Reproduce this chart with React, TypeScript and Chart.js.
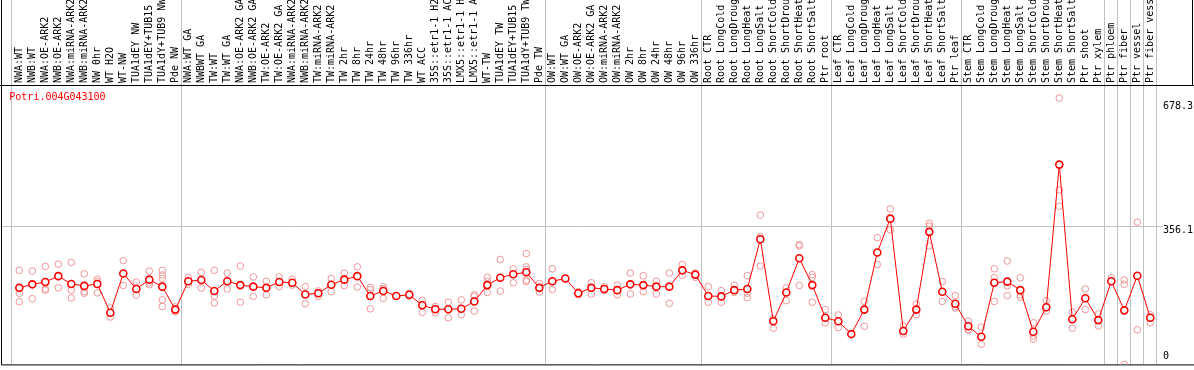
import React, { useEffect, useRef } from 'react';
import { Chart, registerables } from 'chart.js';

Chart.register(...registerables);

const geneId = 'Potri.004G043100';

const categories = [
  'NWA:WT', 'NWB:WT', 'NWA:OE-ARK2', 'NWB:OE-ARK2', 'NWA:miRNA-ARK2', 'NWB:miRNA-ARK2', 'NW 0hr', 'WT H2O', 'WT-NW', 'TUA1dEY NW',
  'TUA1dEY+TUB15', 'TUA1dY+TUB9 NW', 'Pde NW', 'NWA:WT GA', 'NWBWT GA', 'TW:WT', 'TW:WT GA', 'NWA:OE-ARK2 GA', 'NWB:OE-ARK2 GA', 'TW:OE-ARK2',
  'TW:OE-ARK2 GA', 'NWA:miRNA-ARK2', 'NWB:miRNA-ARK2', 'TW:miRNA-ARK2', 'TW:miRNA-ARK2', 'TW 2hr', 'TW 8hr', 'TW 24hr', 'TW 48hr', 'TW 96hr',
  'TW 336hr', 'WT ACC', '35S::etr1-1 H2', '35S::etr1-1 AC', 'LMX5::etr1-1 H', 'LMX5::etr1-1 A', 'WT-TW', 'TUA1dEY TW', 'TUA1dEY+TUB15', 'TUA1dY+TUB9 TW',
  'Pde TW', 'OW:WT', 'OW:WT GA', 'OW:OE-ARK2', 'OW:OE-ARK2 GA', 'OW:miRNA-ARK2', 'OW:miRNA-ARK2', 'OW 2hr', 'OW 8hr', 'OW 24hr',
  'OW 48hr', 'OW 96hr', 'OW 336hr', 'Root CTR', 'Root LongCold', 'Root LongDroug', 'Root LongHeat', 'Root LongSalt', 'Root ShortCold', 'Root ShortDrou',
  'Root ShortHeat', 'Root ShortSalt', 'Ptr root', 'Leaf CTR', 'Leaf LongCold', 'Leaf LongDroug', 'Leaf LongHeat', 'Leaf LongSalt', 'Leaf ShortCold', 'Leaf ShortDrou',
  'Leaf ShortHeat', 'Leaf ShortSalt', 'Ptr leaf', 'Stem CTR', 'Stem LongCold', 'Stem LongDroug', 'Stem LongHeat', 'Stem LongSalt', 'Stem ShortCold', 'Stem ShortDrou',
  'Stem ShortHeat', 'Stem ShortSalt', 'Ptr shoot', 'Ptr xylem', 'Ptr phloem', 'Ptr fiber', 'Ptr vessel', 'Ptr fiber vess',
];

const means = [
  197, 206, 212, 227, 207, 202, 207, 133, 234, 194,
  218, 200, 141, 214, 217, 189, 214, 204, 200, 197,
  212, 210, 180, 183, 205, 218, 227, 176, 189, 176,
  179, 152, 142, 142, 143, 162, 204, 223, 232, 237,
  197, 214, 221, 183, 197, 194, 191, 206, 204, 200,
  200, 242, 231, 176, 175, 191, 194, 322, 111, 185,
  273, 204, 120, 111, 78, 141, 288, 375, 86, 141,
  341, 187, 156, 98, 71, 210, 213, 191, 84, 147,
  514, 116, 170, 114, 214, 139, 228, 120,
];

const replicates = [
  [242, 183, 161], [240, 169], [252, 194, 191], [258, 197], [262, 191, 171],
  [233, 187, 183], [219, 213, 184], [145, 122], [267, 203], [212, 178],
  [240, 210, 205], [242, 230, 221, 166, 149], [148, 135], [224, 206], [237, 197],
  [242, 176, 158], [235, 194], [253, 160], [225, 175], [214, 179],
  [225, 200], [219, 204], [200, 156], [189, 175], [221, 187],
  [235, 203], [251, 199], [198, 192, 143], [200, 195, 170], [],
  [183, 175], [165, 134], [149, 133], [160, 120], [166, 128],
  [179, 175, 137], [224, 213, 185], [270, 189], [246, 210], [285, 251, 244, 217, 213],
  [208, 186], [246, 193], [], [187, 179], [210, 181],
  [200, 190], [204, 179], [235, 181], [228, 187], [214, 181],
  [235, 157], [257, 229], [235, 224], [200, 160], [190, 160],
  [204, 185], [228, 183, 172], [384, 329, 253], [117, 93], [197, 164],
  [308, 305, 203], [231, 224, 160], [141, 107], [127, 95], [],
  [162, 98], [326, 257], [400, 346], [99, 78], [155, 128],
  [363, 356, 305], [213, 162], [177, 149, 145], [111, 90, 88], [96, 52],
  [246, 223, 162], [266, 202, 177], [223, 179, 173], [107, 73, 65], [164, 137],
  [685, 449, 407], [134, 93], [194, 141], [130, 99], [223],
  [217, 206, 0], [366, 89], [128, 107],
];

const yTickValues = [0, 356.1, 678.3];
const groupEnds = [12, 40, 52, 62, 72, 83, 84, 85, 86, 87];

const Y_MAX = 718.8;
const FONT = '10px "DejaVu Sans Mono", "Liberation Mono", monospace';

const decorPlugin = {
  id: 'decor',
  beforeDatasetsDraw(chart: any) {
    const { ctx, chartArea, scales } = chart;
    const xs = scales.x;
    const ys = scales.y;
    ctx.save();
    ctx.strokeStyle = '#c0c0c0';
    ctx.lineWidth = 1;
    const vx: number[] = [chartArea.left - 2];
    groupEnds.forEach((b) => {
      const p0 = xs.getPixelForValue(b);
      const p1 = p0 + (xs.getPixelForValue(1) - xs.getPixelForValue(0));
      vx.push((p0 + p1) / 2 - 1);
    });
    vx.forEach((x) => {
      const px = Math.round(x) + 0.5;
      ctx.beginPath();
      ctx.moveTo(px, 0);
      ctx.lineTo(px, chartArea.bottom);
      ctx.stroke();
    });
    const gy = Math.round(ys.getPixelForValue(yTickValues[1])) + 0.5;
    ctx.beginPath();
    ctx.moveTo(2, gy);
    ctx.lineTo(1163, gy);
    ctx.stroke();
    ctx.strokeStyle = '#000';
    ctx.beginPath();
    ctx.moveTo(1.5, 0);
    ctx.lineTo(1.5, chartArea.bottom + 0.5);
    ctx.lineTo(chart.width, chartArea.bottom + 0.5);
    ctx.moveTo(0, chartArea.top + 0.5);
    ctx.lineTo(chart.width, chartArea.top + 0.5);
    ctx.moveTo(1192.5, 0);
    ctx.lineTo(1192.5, chartArea.top);
    ctx.stroke();
    ctx.restore();
  },
  afterDraw(chart: any) {
    const { ctx, chartArea, scales } = chart;
    const ys = scales.y;
    ctx.save();
    ctx.font = FONT;
    ctx.textBaseline = 'middle';
    ctx.textAlign = 'left';
    ctx.fillStyle = '#ff0000';
    ctx.fillText(geneId, chartArea.left - 3.5, chartArea.top + 12.5);
    ctx.fillStyle = '#000';
    const offs = [-8, 4, 6];
    yTickValues.forEach((v, i) => {
      ctx.fillText(String(v), 1163, ys.getPixelForValue(v) + offs[i]);
    });
    ctx.restore();
  },
};

export default function App() {
  const ref = useRef<HTMLCanvasElement | null>(null);

  useEffect(() => {
    if (!ref.current) return;
    const maxReps = Math.max(...replicates.map((r) => r.length));
    const repSets = [] as any[];
    for (let k = 0; k < maxReps; k++) {
      repSets.push({
        type: 'line',
        label: 'rep' + (k + 1),
        data: replicates.map((r) => (r.length > k ? r[k] : null)),
        showLine: false,
        pointRadius: 3.3,
        pointBorderWidth: 1,
        pointBorderColor: 'rgb(238,150,150)',
        pointBackgroundColor: 'rgba(0,0,0,0)',
        borderColor: 'rgb(238,150,150)',
        order: 2,
      });
    }
    const chart = new Chart(ref.current, {
      type: 'line',
      data: {
        labels: categories,
        datasets: [
          {
            label: 'mean',
            data: means,
            borderColor: '#ff0000',
            borderWidth: 1,
            pointRadius: 3.5,
            pointBorderWidth: 1.6,
            pointBorderColor: '#ff0000',
            pointBackgroundColor: '#ffffff',
            tension: 0,
            order: 1,
          },
          ...repSets,
        ],
      },
      options: {
        responsive: false,
        animation: false,
        layout: { padding: { left: 12.8, right: 37.2, top: 0, bottom: 1 } },
        plugins: { legend: { display: false }, tooltip: { enabled: false }, title: { display: false } },
        scales: {
          x: {
            type: 'category',
            position: 'top',
            offset: true,
            grid: { display: false, drawTicks: false },
            border: { display: false },
            ticks: {
              autoSkip: false,
              minRotation: 90,
              maxRotation: 90,
              padding: 2,
              labelOffset: 12,
              color: '#000',
              font: { family: '"DejaVu Sans Mono", "Liberation Mono", monospace', size: 10 },
            },
            afterFit: (scale: any) => {
              scale.height = 85;
            },
          },
          y: {
            type: 'linear',
            display: false,
            min: 0,
            max: Y_MAX,
          },
        },
      },
      plugins: [decorPlugin],
    });
    return () => chart.destroy();
  }, []);

  return (
    <div style={{ position: 'fixed', left: 0, top: 0, width: 1194, height: 370, background: '#fff' }}>
      <canvas ref={ref} width={1194} height={370} style={{ display: 'block' }} />
    </div>
  );
}
